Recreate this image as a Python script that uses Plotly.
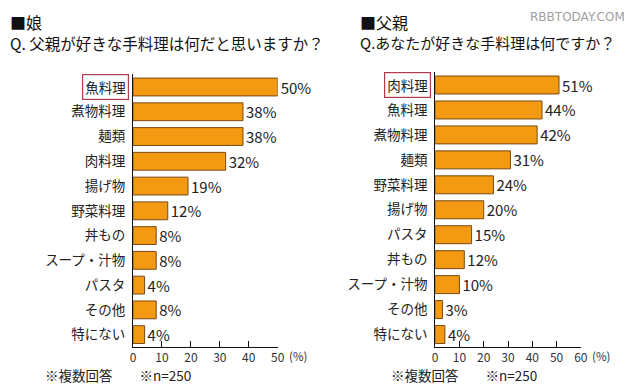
import plotly.graph_objects as go

FONT = "Noto Sans CJK JP"

left_title = "■娘"
left_question = "Q. 父親が好きな手料理は何だと思いますか？"
left_categories = ["魚料理", "煮物料理", "麺類", "肉料理", "揚げ物", "野菜料理",
                   "丼もの", "スープ・汁物", "パスタ", "その他", "特にない"]
left_values = [50, 38, 38, 32, 19, 12, 8, 8, 4, 8, 4]
left_ticks = [0, 10, 20, 30, 40, 50]

right_title = "■父親"
right_question = "Q.あなたが好きな手料理は何ですか？"
right_categories = ["肉料理", "魚料理", "煮物料理", "麺類", "野菜料理", "揚げ物",
                    "パスタ", "丼もの", "スープ・汁物", "その他", "特にない"]
right_values = [51, 44, 42, 31, 24, 20, 15, 12, 10, 3, 4]
right_ticks = [0, 10, 20, 30, 40, 50, 60]

footnote = "※複数回答　　※n=250"
watermark = "RBBTODAY.COM"

BAR = "#F39A12"
EDGE = "#7A4A14"
BOX = "#B23A4E"

# the page body has an 8px margin; the figure fills the rest of the 640x386 window
OFF = 8
W, H = 640 - OFF, 386 - OFF


def px(x):
    return (x - OFF) / W


def py(y):
    return 1 - (y - OFF) / H


fig = go.Figure()
for vals, cats, xa, ya in [(left_values, left_categories, "x", "y"),
                           (right_values, right_categories, "x2", "y2")]:
    fig.add_trace(go.Bar(
        x=vals, y=cats, orientation="h",
        xaxis=xa, yaxis=ya,
        marker=dict(color=BAR, line=dict(color=EDGE, width=1)),
        text=[f"{v}%" for v in vals], textposition="outside",
        constraintext="none",
        textfont=dict(family=FONT, size=15, color="#222"),
        cliponaxis=False, showlegend=False,
    ))

xcommon = dict(showgrid=False, zeroline=False, showline=True, linecolor="#111",
               linewidth=1, ticks="inside", ticklen=6, tickcolor="#111",
               tickfont=dict(family=FONT, size=12, color="#333"), fixedrange=True)
ycommon = dict(showgrid=False, zeroline=False, showline=True, linecolor="#111",
               linewidth=1, ticks="", autorange="reversed",
               tickfont=dict(family=FONT, size=13.5, color="#222"), ticklabelstandoff=4)

fig.update_layout(
    width=W, height=H,
    margin=dict(l=0, r=0, t=0, b=0),
    paper_bgcolor="white", plot_bgcolor="white",
    bargap=0.28,
    xaxis=dict(domain=[px(132), px(279)], range=[0, 50], tickvals=left_ticks,
               anchor="y", **xcommon),
    yaxis=dict(domain=[py(347), py(74)], anchor="x",
               tickvals=left_categories,
               ticktext=[""] + left_categories[1:], **ycommon),
    xaxis2=dict(domain=[px(439), px(587)], range=[0, 60], tickvals=right_ticks,
                anchor="y2", **xcommon),
    yaxis2=dict(domain=[py(347), py(72)], anchor="x2",
                tickvals=right_categories,
                ticktext=[""] + right_categories[1:], **ycommon),
)

ann = []
for xr, yr, cat in [("x domain", "y", left_categories[0]),
                    ("x2 domain", "y2", right_categories[0])]:
    ann.append(dict(text=cat, xref=xr, yref=yr, x=0, y=cat, xanchor="right",
                    yanchor="middle", xshift=-4, showarrow=False,
                    font=dict(family=FONT, size=13.5, color="#222"),
                    bordercolor=BOX, borderwidth=1.2, borderpad=2, bgcolor="white"))
for xr in ["x domain", "x2 domain"]:
    ann.append(dict(text="(%)", xref=xr, yref="paper", x=1, y=py(356),
                    xanchor="left", yanchor="middle", xshift=9, showarrow=False,
                    font=dict(family=FONT, size=11.5, color="#333")))
ann.append(dict(text=left_title, xref="paper", yref="paper", x=px(5), y=py(8.5),
                xanchor="left", yanchor="top", showarrow=False,
                font=dict(family=FONT, size=16, color="#111")))
ann.append(dict(text=left_question, xref="paper", yref="paper", x=px(5), y=py(43),
                xanchor="left", yanchor="middle", showarrow=False,
                font=dict(family=FONT, size=15.5, color="#111")))
ann.append(dict(text=right_title, xref="paper", yref="paper", x=px(361), y=py(8.5),
                xanchor="left", yanchor="top", showarrow=False,
                font=dict(family=FONT, size=16, color="#111")))
ann.append(dict(text=right_question, xref="paper", yref="paper", x=px(361), y=py(43),
                xanchor="left", yanchor="middle", showarrow=False,
                font=dict(family=FONT, size=15, color="#111")))
ann.append(dict(text=watermark, xref="paper", yref="paper", x=px(634), y=py(8.5),
                xanchor="right", yanchor="top", showarrow=False,
                font=dict(family="DejaVu Sans", size=12, color="#a0a0a0")))
for x0 in [41, 392]:
    ann.append(dict(text=footnote, xref="paper", yref="paper", x=px(x0), y=py(375),
                    xanchor="left", yanchor="middle", showarrow=False,
                    font=dict(family=FONT, size=13.5, color="#222")))
fig.update_layout(annotations=ann)

fig.write_html("out.html")
